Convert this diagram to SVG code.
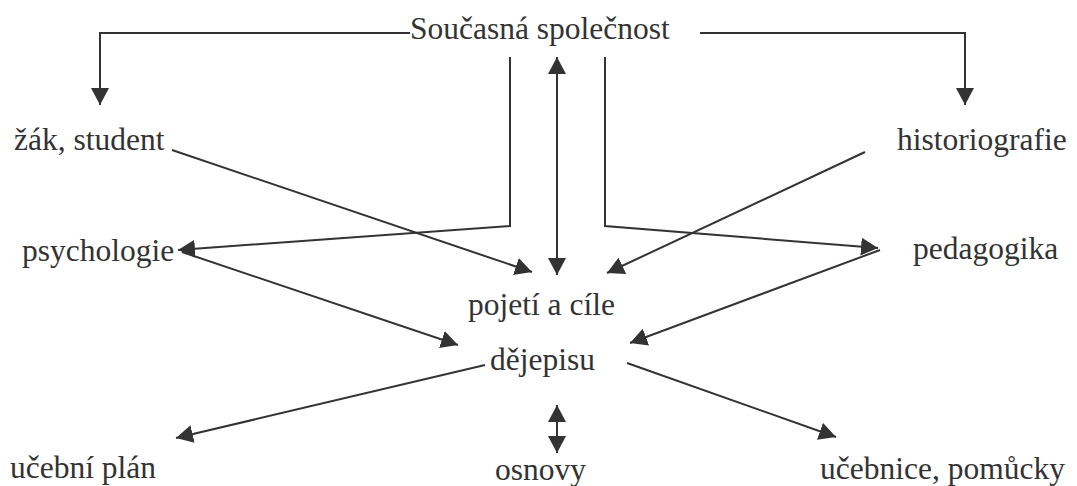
<svg xmlns="http://www.w3.org/2000/svg" width="1077" height="486" viewBox="0 0 1077 486">
  <style>
    text { font-family: 'Liberation Serif', 'Times New Roman', serif; font-size: 31.5px; fill: #333; }
    .ln { fill: none; stroke: #333; stroke-width: 2; }
    .ar { marker-end: url(#head); }
    .ar2 { marker-start: url(#head); marker-end: url(#head); }
  </style>
  <defs>
    <!-- filled triangular arrowhead, reversed automatically at line starts -->
    <marker id="head" viewBox="0 0 17 18" refX="17" refY="9" markerWidth="17" markerHeight="18" markerUnits="userSpaceOnUse" orient="auto-start-reverse">
      <path d="M0,0 L17,9 L0,18 z" fill="#333"/>
    </marker>
  </defs>
  <rect width="1077" height="486" fill="#fff"/>

  <!-- connectors -->
  <g id="connectors">
    <polyline class="ln ar" points="410,33 100,33 100,105"/>
    <polyline class="ln ar" points="700,33 965,33 965,105"/>
    <polyline class="ln ar" points="510,57 510,226 178,250"/>
    <polyline class="ln ar" points="605,57 605,226 878,248"/>
    <line class="ln ar2" x1="557" y1="57" x2="557" y2="275"/>
    <line class="ln ar" x1="172" y1="150" x2="532" y2="272"/>
    <line class="ln ar" x1="865" y1="152" x2="607" y2="273"/>
    <line class="ln ar" x1="182" y1="252" x2="458" y2="345"/>
    <line class="ln ar" x1="880" y1="250" x2="630" y2="343"/>
    <line class="ln ar" x1="485" y1="365" x2="176" y2="438"/>
    <line class="ln ar" x1="627" y1="363" x2="836" y2="437"/>
    <line class="ln ar2" x1="557" y1="405" x2="557" y2="453"/>
  </g>

  <!-- nodes -->
  <g id="spolecnost"><text x="410" y="39">Současná společnost</text></g>
  <g id="zak"><text x="14" y="150">žák, student</text></g>
  <g id="historiografie"><text x="897" y="150">historiografie</text></g>
  <g id="psychologie"><text x="22" y="261">psychologie</text></g>
  <g id="pedagogika"><text x="913" y="259">pedagogika</text></g>
  <g id="pojeti"><text x="468" y="315">pojetí a cíle</text></g>
  <g id="dejepisu"><text x="490" y="370">dějepisu</text></g>
  <g id="ucebni-plan"><text x="10" y="478">učební plán</text></g>
  <g id="osnovy"><text x="495" y="480">osnovy</text></g>
  <g id="ucebnice"><text x="820" y="479">učebnice, pomůcky</text></g>
</svg>
